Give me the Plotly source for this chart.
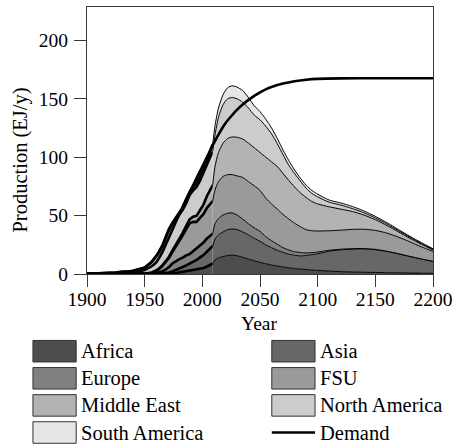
import plotly.graph_objects as go

# ---------------------------------------------------------------------------
# Data: natural-gas production by region (EJ/y), historical and projected
# ---------------------------------------------------------------------------
regions = ["Africa", "Asia", "Europe", "FSU", "Middle East",
           "North America", "South America"]

hist_years = [1900, 1910, 1920, 1925, 1930, 1935, 1940, 1945, 1950, 1953,
              1956, 1959, 1962, 1965, 1968, 1971, 1974, 1977, 1980, 1983,
              1986, 1989, 1992, 1995, 1998, 2001, 2004, 2007, 2009]

hist_africa = [0, 0, 0, 0, 0, 0, 0, 0, 0, 0, 0, 0, 0.1, 0.1, 0.1, 0.2, 0.5,
               0.8, 1.3, 1.8, 2.3, 2.7, 3.2, 3.6, 4.4, 5.2, 6.4, 7.8, 9.0]
hist_asia = [0, 0, 0, 0, 0, 0, 0, 0, 0, 0.1, 0.2, 0.3, 0.4, 0.6, 0.8, 1.1,
             1.6, 2.4, 3.3, 4.2, 5.1, 6.0, 7.2, 8.4, 9.8, 11.0, 12.8, 14.2, 15.0]
hist_europe = [0, 0, 0, 0, 0, 0, 0.1, 0.1, 0.2, 0.3, 0.4, 0.6, 0.9, 1.5, 2.8,
               4.6, 6.9, 7.8, 8.2, 8.0, 8.6, 8.4, 9.0, 9.6, 10.3, 10.8, 11.2,
               10.9, 10.5]
hist_fsu = [0, 0, 0, 0, 0, 0, 0.1, 0.1, 0.2, 0.3, 0.5, 1.3, 2.5, 4.3, 6.3,
            7.8, 9.8, 12.4, 15.2, 19.0, 22.4, 26.2, 25.3, 23.0, 23.6, 24.4,
            26.2, 27.6, 28.0]
hist_middle_east = [0, 0, 0, 0, 0, 0, 0, 0, 0.1, 0.1, 0.2, 0.3, 0.4, 0.5, 0.7,
                    0.9, 1.2, 1.5, 1.6, 2.2, 2.8, 3.5, 4.4, 5.2, 6.5, 8.0,
                    10.2, 12.4, 13.5]
hist_north_america = [0.2, 0.5, 0.8, 1.2, 1.9, 2.0, 2.6, 3.6, 4.8, 6.9, 8.8,
                      11.2, 13.5, 16.0, 19.3, 22.8, 22.6, 21.5, 21.4, 19.8,
                      19.5, 20.8, 22.4, 24.6, 25.2, 26.8, 26.5, 27.6, 29.0]
hist_south_america = [0, 0, 0, 0, 0, 0, 0, 0.1, 0.2, 0.3, 0.4, 0.5, 0.6, 0.8,
                      1.0, 1.1, 1.2, 1.4, 1.6, 1.9, 2.2, 2.5, 2.8, 3.1, 3.6,
                      4.2, 4.9, 5.6, 6.0]

proj_years = [2009, 2011, 2014, 2018, 2022, 2026, 2030, 2035, 2040, 2045,
              2050, 2055, 2060, 2065, 2070, 2075, 2080, 2085, 2090, 2095,
              2100, 2110, 2120, 2130, 2140, 2150, 2160, 2170, 2180, 2190, 2200]

proj_africa = [9, 12, 13.8, 15, 15.8, 16.2, 15.6, 14.3, 12.8, 11.3, 10, 8.8,
               7.7, 6.8, 6, 5.3, 4.7, 4.2, 3.8, 3.4, 3.1, 2.5, 2, 1.7, 1.5,
               1.3, 1.1, 0.95, 0.8, 0.7, 0.6]
proj_asia = [15, 18, 19.7, 21, 22.2, 22.3, 22.4, 21.7, 20.7, 19.2, 18, 16.2,
             14.8, 13.5, 12.5, 11.7, 11.3, 11.3, 12, 13.1, 14.2, 17, 18.7,
             19.6, 20, 19.5, 18.2, 16.3, 14.2, 12.1, 10.2]
proj_europe = [10.5, 13, 14, 14.5, 14, 13.7, 12.5, 11, 9.5, 9, 8.5, 7, 6, 5.2,
               4, 3.5, 3, 2.9, 2.2, 1.8, 1.5, 0.8, 0.5, 0.4, 0.3, 0.3, 0.2,
               0.2, 0.1, 0.1, 0.1]
proj_fsu = [28, 29, 31.5, 33, 33, 32.8, 33.5, 35.6, 36, 36, 35, 33, 31.5, 30,
            28.5, 26.5, 24.5, 22.1, 20, 18.7, 18, 16.7, 16.3, 16.5, 16.5,
            16.2, 15.5, 14.1, 12.4, 10.3, 8.4]
proj_middle_east = [13.5, 20, 25, 28.5, 31, 32.3, 33, 32.9, 33, 32.5, 32.5,
                    35, 36, 36.5, 35, 33, 31, 29, 27.5, 25, 23.2, 20.5, 18,
                    15.3, 12.2, 9.2, 6.5, 4.5, 3, 2.2, 1.3]
proj_north_america = [29, 27, 30, 33, 34, 33.7, 33, 31.5, 30, 28, 28, 26.5,
                      24, 19.5, 16, 13, 11.5, 10, 8, 7, 6, 4, 3.5, 2.5, 2,
                      1.5, 1.3, 1.1, 0.9, 0.7, 0.5]
proj_south_america = [6, 8, 8, 8.5, 9.5, 10, 10, 10, 9, 8, 7, 6, 5, 4.5, 4,
                      4, 3, 2.5, 2.5, 2.5, 2.3, 1.8, 1.8, 1.8, 1.5, 1.3, 1.2,
                      0.9, 0.8, 0.7, 0.5]

demand_years = [1900, 1920, 1930, 1940, 1950, 1955, 1960, 1965, 1970, 1975,
                1980, 1985, 1990, 1995, 2000, 2005, 2010, 2015, 2020, 2025,
                2030, 2035, 2040, 2045, 2050, 2055, 2060, 2070, 2080, 2090,
                2100, 2120, 2150, 2200]
demand = [0, 0.3, 0.8, 1.8, 3.5, 6, 10, 18, 29, 40, 51, 62, 72, 82, 92, 102,
          112, 121, 129, 135, 140.5, 145, 149, 152.5, 155.5, 158, 160, 163,
          165, 166.3, 167, 167.4, 167.5, 167.5]

x_ticks = [1900, 1950, 2000, 2050, 2100, 2150, 2200]
y_ticks = [0, 50, 100, 150, 200]

hist_series = [hist_africa, hist_asia, hist_europe, hist_fsu,
               hist_middle_east, hist_north_america, hist_south_america]
proj_series = [proj_africa, proj_asia, proj_europe, proj_fsu,
               proj_middle_east, proj_north_america, proj_south_america]

# ---------------------------------------------------------------------------
# Styling
# ---------------------------------------------------------------------------
fills = ["#4d4d4d", "#676767", "#808080", "#9a9a9a", "#b3b3b3", "#cccccc",
         "#e6e6e6"]
FONT = "Liberation Serif, Times New Roman, DejaVu Serif, serif"
FS_TICK = 19.5
FS_TEXT = 20.5
W, H = 459, 448
L, R, T, B = 87, 20, 6, 174          # plot-area margins in pixels
PW, PH = W - L - R, H - T - B


def px(xp):
    """pixel x -> paper x"""
    return (xp - L) / PW


def py(yp):
    """pixel y -> paper y"""
    return (H - B - yp) / PH


fig = go.Figure()

# historical data: stacked, drawn with heavy outlines
for name, vals, col in zip(regions, hist_series, fills):
    fig.add_trace(go.Scatter(
        x=hist_years, y=vals, name=name, stackgroup="hist",
        mode="lines", fillcolor=col,
        line=dict(color="black", width=2.6),
        showlegend=False, hoverinfo="skip"))

# projection: stacked, thin outlines, smooth
for name, vals, col in zip(regions, proj_series, fills):
    fig.add_trace(go.Scatter(
        x=proj_years, y=vals, name=name, stackgroup="proj",
        mode="lines", fillcolor=col,
        line=dict(color="black", width=1, shape="spline", smoothing=0.7),
        showlegend=False, hoverinfo="skip"))

fig.add_trace(go.Scatter(
    x=demand_years, y=demand, name="Demand", mode="lines",
    line=dict(color="black", width=2.6, shape="spline", smoothing=0.8),
    showlegend=False, hoverinfo="skip"))

axis_common = dict(
    showgrid=False, zeroline=False, showline=True, mirror=True,
    linecolor="#3a3a3a", linewidth=1, ticks="outside", ticklen=12,
    tickcolor="#3a3a3a", tickwidth=1,
    tickfont=dict(family=FONT, size=FS_TICK, color="black"))

fig.update_xaxes(range=[1900, 2200], tickvals=x_ticks, ticklabelstandoff=-4,
                 **axis_common)
fig.update_yaxes(range=[0, 228.5], tickvals=y_ticks, ticklabelstandoff=2,
                 **axis_common)

annotations = [
    dict(text="Year", x=px(262), y=py(324), xref="paper", yref="paper",
         showarrow=False, xanchor="center", yanchor="middle",
         font=dict(family=FONT, size=FS_TICK, color="black")),
    dict(text="Production (EJ/y)", x=px(19), y=py(160), xref="paper",
         yref="paper", showarrow=False, textangle=-90, xanchor="center",
         yanchor="middle", font=dict(family=FONT, size=FS_TEXT, color="black")),
]
shapes = []

# legend: two columns of swatches below the plot
legend_items = regions + ["Demand"]
col_x = [32, 275]
row_y0, row_dy = 351.5, 27.2
sw_w, sw_h = 44, 21.6
for i, name in enumerate(legend_items):
    c, r = i % 2, i // 2
    x0 = col_x[c]
    yc = row_y0 + r * row_dy
    if name == "Demand":
        shapes.append(dict(type="line", xref="paper", yref="paper",
                           x0=px(x0), x1=px(x0 + sw_w), y0=py(yc), y1=py(yc),
                           line=dict(color="black", width=2.4)))
    else:
        shapes.append(dict(type="rect", xref="paper", yref="paper",
                           x0=px(x0), x1=px(x0 + sw_w),
                           y0=py(yc + sw_h / 2), y1=py(yc - sw_h / 2),
                           fillcolor=fills[i],
                           line=dict(color="#333333", width=1)))
    annotations.append(dict(text=name, x=px(x0 + sw_w + 3), y=py(yc),
                            xref="paper", yref="paper", showarrow=False,
                            xanchor="left", yanchor="middle",
                            font=dict(family=FONT, size=FS_TEXT,
                                      color="black")))

fig.update_layout(
    width=W, height=H, autosize=False,
    margin=dict(l=L, r=R, t=T, b=B, pad=0),
    paper_bgcolor="white", plot_bgcolor="white",
    showlegend=False, annotations=annotations, shapes=shapes)

fig.write_html("out.html")
